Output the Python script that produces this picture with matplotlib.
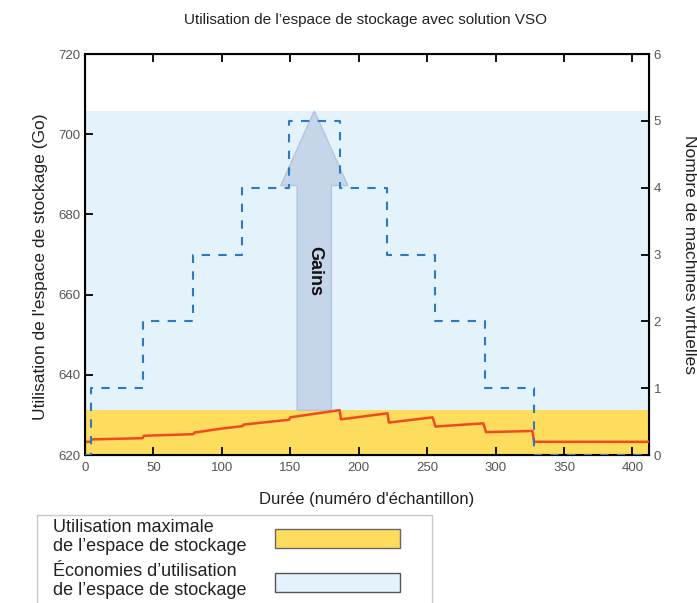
import matplotlib.pyplot as plt
from matplotlib.patches import Rectangle, FancyArrow

plt.rcParams['font.family'] = ['Liberation Sans', 'DejaVu Sans']

# Storage usage (Go)
samples = [0, 4, 5, 42, 43, 79, 80, 100, 115, 116, 149, 150, 186, 187,
           221, 222, 254, 256, 291, 293, 327, 328, 412]
usage = [623.3, 623.3, 623.9, 624.2, 624.8, 625.2, 625.6, 626.6, 627.2, 627.6,
         628.8, 629.4, 631.2, 628.9, 630.4, 628.1, 629.4, 627.1, 627.9, 625.7,
         626.0, 623.3, 623.3]

# Number of virtual machines (step changes)
vm_edges = [0, 4, 42, 79, 115, 149, 186, 221, 256, 292, 328, 412]
vm_count = [0, 1, 2, 3, 4, 5, 4, 3, 2, 1, 0]

max_usage = 631.2     # top of yellow band
savings_top = 705.8   # top of light-blue band

x_ticks = [0, 50, 100, 150, 200, 250, 300, 350, 400]
y_ticks = [620, 640, 660, 680, 700, 720]
vm_ticks = [0, 1, 2, 3, 4, 5, 6]

fig = plt.figure(figsize=(6.97, 6.03), dpi=100)
ax = fig.add_axes([0.122, 0.2454, 0.809, 0.665])

# background bands
ax.axhspan(620, savings_top, color='#e3f2fb', zorder=0, lw=0)
ax.axhspan(620, max_usage, color='#fedd5e', zorder=1, lw=0)

ax.plot(samples, usage, color='#f04a1e', lw=1.8, zorder=4)

# gains arrow
ax.add_patch(FancyArrow(167.5, max_usage, 0, savings_top - max_usage,
                        width=25, head_width=49, head_length=savings_top - 687.2,
                        length_includes_head=True, facecolor='#c5d5ea',
                        edgecolor='#b3c4de', lw=1, zorder=2))
ax.text(167.5, 666, 'Gains', rotation=-90, ha='center', va='center',
        fontsize=13, fontweight='bold', color='#111111', zorder=5)

ax.set_xlim(0, 412)
ax.set_ylim(620, 720)
ax.set_xticks(x_ticks)
ax.set_yticks(y_ticks)
ax.tick_params(direction='in', length=6, width=1.3, labelsize=9.5,
               labelcolor='#555555', top=True)
ax.tick_params(axis='x', pad=5)
for s in ax.spines.values():
    s.set_linewidth(1.5)

ax.set_xlabel("Durée (numéro d'échantillon)", fontsize=12, color='#222222', labelpad=13)
ax.set_ylabel("Utilisation de l'espace de stockage (Go)", fontsize=12.5, color='#222222')
ax.yaxis.set_label_coords(-0.066, 0.47)

ax2 = ax.twinx()
ax2.step(vm_edges, vm_count + [vm_count[-1]], where='post', color='#2a7bc4',
         lw=1.5, dashes=(4, 4), zorder=3)
ax2.set_ylim(0, 6)
ax2.set_yticks(vm_ticks)
ax2.tick_params(direction='in', length=6, width=1.3, labelsize=9.5,
                labelcolor='#555555')
ax2.set_ylabel('Nombre de machines virtuelles', fontsize=12.5, color='#222222',
               rotation=-90, labelpad=26)
ax2.patch.set_visible(False)
ax2.set_zorder(ax.get_zorder() + 1)

fig.suptitle("Utilisation de l’espace de stockage avec solution VSO", y=0.978,
             x=0.525, fontsize=11, color='#222222')

# manual legend box
W, H = 697, 603
def fx(px):
    return px / W
def fy(py):
    return 1 - py / H

fig.patches.append(Rectangle((fx(37), fy(610)), fx(432) - fx(37), fy(515) - fy(610),
                             transform=fig.transFigure, facecolor='white',
                             edgecolor='#c8c8c8', lw=1))
fig.patches.append(Rectangle((fx(275), fy(548)), fx(400) - fx(275), fy(529) - fy(548),
                             transform=fig.transFigure, facecolor='#fedd5e',
                             edgecolor='#666666', lw=1))
fig.patches.append(Rectangle((fx(275), fy(592)), fx(400) - fx(275), fy(573) - fy(592),
                             transform=fig.transFigure, facecolor='#e3f2fb',
                             edgecolor='#555555', lw=1))
fig.text(fx(53), fy(537), "Utilisation maximale\nde l’espace de stockage",
         va='center', ha='left', fontsize=13, color='#222222', linespacing=1.2)
fig.text(fx(53), fy(581), "Économies d’utilisation\nde l’espace de stockage",
         va='center', ha='left', fontsize=13, color='#222222', linespacing=1.2)

fig.savefig('out.png', dpi=100)
